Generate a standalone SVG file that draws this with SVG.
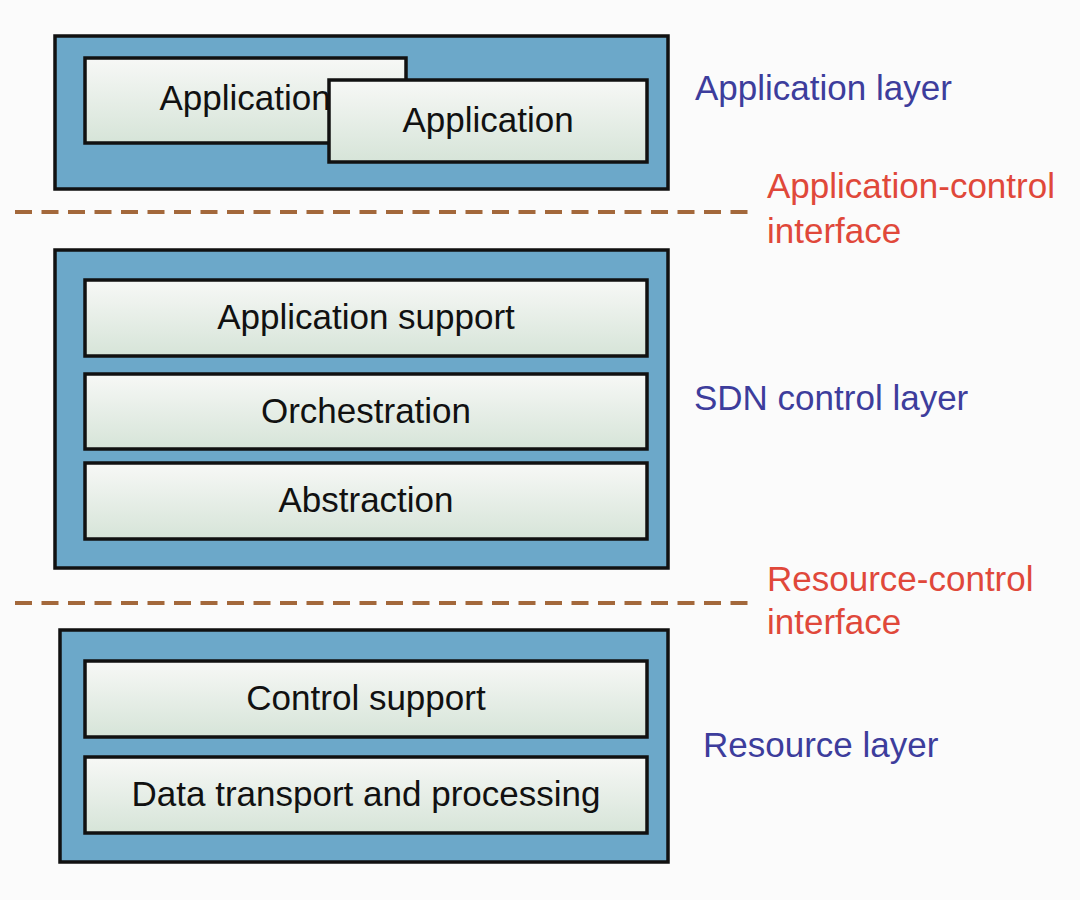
<svg xmlns="http://www.w3.org/2000/svg" width="1080" height="900" viewBox="0 0 1080 900">
<defs>
<linearGradient id="inner" x1="0" y1="0" x2="0" y2="1">
<stop offset="0" stop-color="#f7f8f6"/>
<stop offset="1" stop-color="#d6e4d8"/>
</linearGradient>
</defs>
<style>
.outer{fill:#6ca8c9;stroke:#111;stroke-width:3.5}
.inner{fill:url(#inner);stroke:#111;stroke-width:3.5}
.t{font-family:"Liberation Sans",Arial,sans-serif;font-size:35px;fill:#111;text-anchor:middle}
.lb{font-family:"Liberation Sans",Arial,sans-serif;font-size:35px;fill:#3d3d9c}
.lr{font-family:"Liberation Sans",Arial,sans-serif;font-size:35px;fill:#e0483a}
.dash{stroke:#a3683b;stroke-width:4;stroke-dasharray:17 9.5;fill:none}
</style>
<rect width="1080" height="900" fill="#fbfbfb"/>
<g id="app-layer">
<rect class="outer" x="55" y="36" width="613" height="153"/>
<g id="app1"><rect class="inner" x="85" y="58" width="321" height="85"/><text class="t" x="245" y="110">Application</text></g>
<g id="app2"><rect class="inner" x="329" y="80" width="318" height="82"/><text class="t" x="488" y="132">Application</text></g>
<text class="lb" x="695" y="100">Application layer</text>
</g>
<g id="connectors">
<line class="dash" x1="15" y1="212" x2="752" y2="212"/>
<line class="dash" x1="15" y1="603" x2="752" y2="603"/>
</g>
<g id="app-control-if">
<text class="lr" x="767" y="198">Application-control</text>
<text class="lr" x="767" y="243">interface</text>
</g>
<g id="sdn-layer">
<rect class="outer" x="55" y="250" width="613" height="318"/>
<g id="app-support"><rect class="inner" x="85" y="280" width="562" height="76"/><text class="t" x="366" y="329">Application support</text></g>
<g id="orchestration"><rect class="inner" x="85" y="374" width="562" height="75"/><text class="t" x="366" y="423">Orchestration</text></g>
<g id="abstraction"><rect class="inner" x="85" y="463" width="562" height="76"/><text class="t" x="366" y="512">Abstraction</text></g>
<text class="lb" x="694" y="410">SDN control layer</text>
</g>
<g id="res-control-if">
<text class="lr" x="767" y="591">Resource-control</text>
<text class="lr" x="767" y="634">interface</text>
</g>
<g id="resource-layer">
<rect class="outer" x="60" y="630" width="608" height="232"/>
<g id="control-support"><rect class="inner" x="85" y="661" width="562" height="76"/><text class="t" x="366" y="710">Control support</text></g>
<g id="data-transport"><rect class="inner" x="85" y="757" width="562" height="76"/><text class="t" x="366" y="806">Data transport and processing</text></g>
<text class="lb" x="703" y="757">Resource layer</text>
</g>
</svg>
